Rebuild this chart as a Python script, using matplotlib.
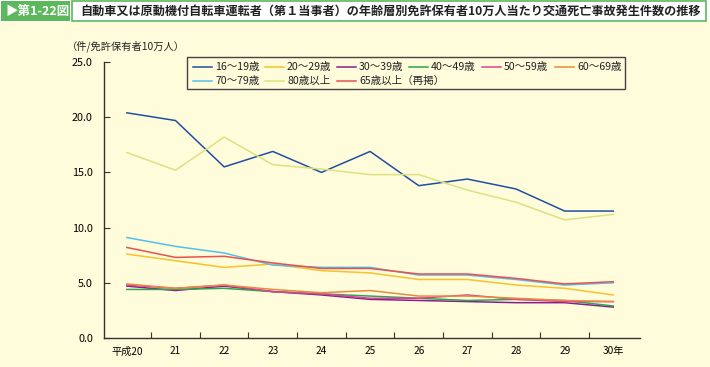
import matplotlib.pyplot as plt
from matplotlib.patches import Rectangle

plt.rcParams['font.family'] = ['Noto Sans CJK JP', 'DejaVu Sans']

# Data (件/免許保有者10万人)
years = ["平成20", "21", "22", "23", "24", "25", "26", "27", "28", "29", "30年"]
age_16_19 = [20.4, 19.7, 15.5, 16.9, 15.0, 16.9, 13.8, 14.4, 13.5, 11.5, 11.5]
age_20_29 = [7.6, 7.0, 6.4, 6.7, 6.1, 5.9, 5.3, 5.3, 4.8, 4.5, 3.9]
age_30_39 = [4.7, 4.3, 4.7, 4.2, 3.9, 3.5, 3.4, 3.3, 3.2, 3.2, 2.8]
age_40_49 = [4.4, 4.4, 4.5, 4.2, 4.0, 3.8, 3.6, 3.4, 3.5, 3.4, 2.9]
age_50_59 = [4.8, 4.5, 4.8, 4.2, 4.0, 3.6, 3.6, 3.9, 3.5, 3.3, 3.3]
age_60_69 = [4.9, 4.5, 4.8, 4.4, 4.1, 4.3, 3.8, 3.8, 3.6, 3.4, 3.3]
age_70_79 = [9.1, 8.3, 7.7, 6.6, 6.4, 6.4, 5.7, 5.7, 5.3, 4.8, 5.0]
age_80_up = [16.8, 15.2, 18.2, 15.7, 15.3, 14.8, 14.8, 13.4, 12.3, 10.7, 11.2]
age_65_up = [8.2, 7.3, 7.4, 6.8, 6.3, 6.3, 5.8, 5.8, 5.4, 4.9, 5.1]

series = [
    ("16～19歳", age_16_19, "#1f4f9f"),
    ("20～29歳", age_20_29, "#f7c12a"),
    ("30～39歳", age_30_39, "#8a1f8c"),
    ("40～49歳", age_40_49, "#2ea651"),
    ("50～59歳", age_50_59, "#d6449a"),
    ("60～69歳", age_60_69, "#e98a3c"),
    ("70～79歳", age_70_79, "#52c0ea"),
    ("80歳以上", age_80_up, "#dbe27e"),
    ("65歳以上（再掲）", age_65_up, "#ea5050"),
]

bg = "#fffcdc"
fig = plt.figure(figsize=(7.1, 3.67), dpi=100, facecolor=bg)

# header
fig.patches.append(Rectangle((0, 0.94), 1, 0.06, transform=fig.transFigure,
                             facecolor="white", edgecolor="none", zorder=0))
fig.patches.append(Rectangle((0.002, 0.943), 0.096, 0.054, transform=fig.transFigure,
                             facecolor="#5cb85c", edgecolor="none", zorder=1))
fig.patches.append(Rectangle((0.101, 0.943), 0.893, 0.054, transform=fig.transFigure,
                             facecolor="white", edgecolor="#5cb85c", lw=1.2, zorder=1))
fig.text(0.008, 0.970, "▶第1-22図", color="white", fontsize=9, fontweight="bold",
         va="center", ha="left")
fig.text(0.113, 0.970,
         "自動車又は原動機付自転車運転者（第１当事者）の年齢層別免許保有者10万人当たり交通死亡事故発生件数の推移",
         color="#222222", fontsize=8.75, fontweight="bold", va="center", ha="left")

# axes: pixel box x 104..640, y 62..338
ax = fig.add_axes([0.1465, 0.079, 0.755, 0.752], facecolor=bg)
x = list(range(len(years)))
for name, vals, col in series:
    ax.plot(x, vals, color=col, lw=1.1, label=name)

ax.set_xlim(-0.47, 10.55)
ax.set_ylim(0, 25)
ax.set_yticks([0, 5, 10, 15, 20, 25])
ax.set_yticklabels(["0.0", "5.0", "10.0", "15.0", "20.0", "25.0"])
ax.set_xticks([i + 0.5 for i in range(10)])
ax.set_xticklabels([])
ax.set_xticks(x, minor=True)
ax.set_xticklabels(years, minor=True)
ax.tick_params(axis="x", which="minor", length=0, pad=6, labelsize=7.3)
ax.tick_params(axis="x", which="major", direction="in", length=4, color="#333333")
ax.tick_params(axis="y", direction="in", length=4, labelsize=7.8, color="#333333", pad=8)
for s in ["top", "right"]:
    ax.spines[s].set_visible(False)
for s in ["left", "bottom"]:
    ax.spines[s].set_color("#333333")
    ax.spines[s].set_linewidth(1.0)

fig.text(0.094, 0.874, "（件/免許保有者10万人）", fontsize=7.4, ha="left", va="center",
         color="#222222")

# legend drawn by hand: 6 equal columns, 2 rows (row-major order)
def px_x(p):
    return (p - 104) / 536.0

def px_y(p):
    return (338 - p) / 276.0

ax.add_patch(Rectangle((px_x(187), px_y(89)), px_x(625) - px_x(187), px_y(57) - px_y(89),
                       transform=ax.transAxes, facecolor=bg, edgecolor="#444444",
                       lw=1.0, clip_on=False, zorder=5))
col_x = [193, 265, 337, 409, 482, 555]
row_y = [66.5, 80.5]
for i, (name, vals, col) in enumerate(series):
    cx = col_x[i % 6]
    ry = row_y[i // 6]
    ax.plot([px_x(cx), px_x(cx + 19)], [px_y(ry), px_y(ry)], color=col, lw=1.1,
            transform=ax.transAxes, clip_on=False, zorder=6)
    ax.text(px_x(cx + 22), px_y(ry), name, fontsize=7.6, ha="left", va="center",
            color="#222222", transform=ax.transAxes, zorder=6)

fig.savefig("out.png", dpi=100, facecolor=bg)
